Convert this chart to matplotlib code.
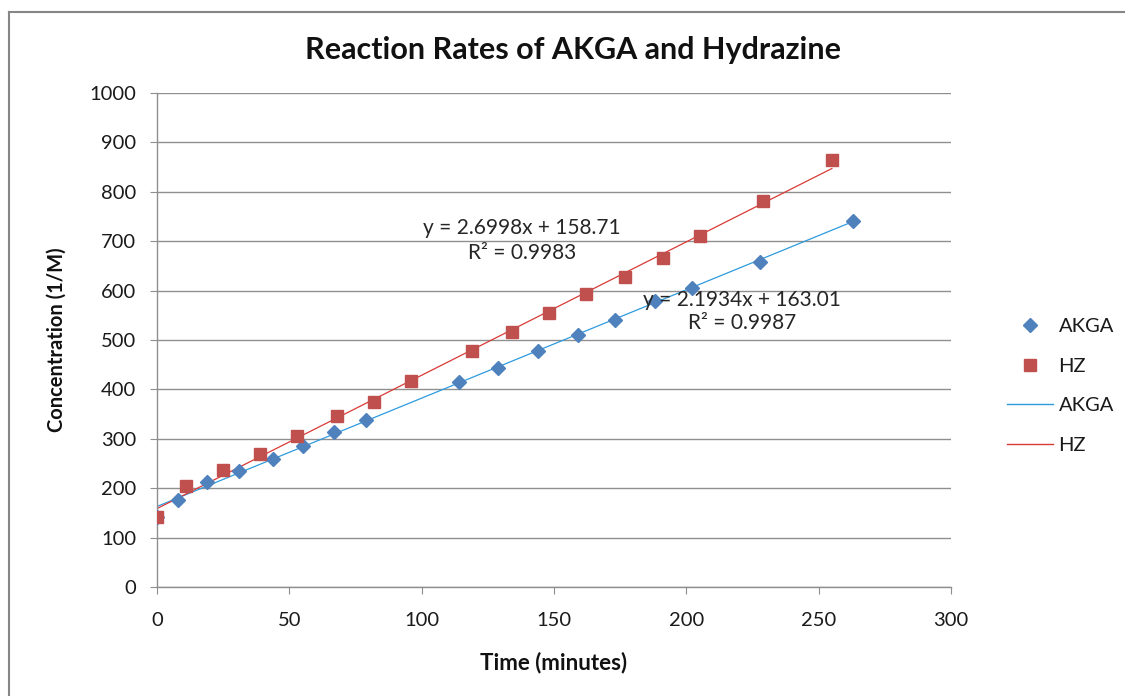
import matplotlib
matplotlib.use("Agg")
import matplotlib.pyplot as plt
from matplotlib.lines import Line2D
import numpy as np

# AKGA data (time in minutes, concentration in 1/M)
akga_time = [0, 8, 19, 31, 44, 55, 67, 79, 114, 129, 144, 159, 173, 188, 202, 228, 263]
akga_conc = [141, 176, 213, 235, 260, 286, 313, 339, 414, 443, 478, 511, 540, 578, 605, 658, 741]

# Hydrazine data
hz_time = [0, 11, 25, 39, 53, 68, 82, 96, 119, 134, 148, 162, 177, 191, 205, 229, 255]
hz_conc = [141, 204, 237, 269, 306, 347, 375, 416, 478, 517, 554, 593, 628, 667, 711, 781, 864]

# linear trendlines as reported on the chart
akga_fit = (2.1934, 163.01, 0.9987)
hz_fit = (2.6998, 158.71, 0.9983)

x_ticks = [0, 50, 100, 150, 200, 250, 300]
y_ticks = [0, 100, 200, 300, 400, 500, 600, 700, 800, 900, 1000]

plt.rcParams['font.family'] = ['Lato', 'DejaVu Sans']

fig = plt.figure(figsize=(11.25, 6.96), dpi=100)
ax = fig.add_axes([157 / 1125, 1 - 587 / 696, (951 - 157) / 1125, (587 - 93) / 696])

grid_col = '#8f8f8f'
blue = '#4F81BD'
red = '#C0504D'
txt_col = '#1a1a1a'

# trendlines
for t, (m, b, r2), col in [(akga_time, akga_fit, '#2E9BDE'), (hz_time, hz_fit, '#D83A36')]:
    xs = np.array([0, max(t)])
    ax.plot(xs, m * xs + b, color=col, lw=0.9, zorder=2)

ax.plot(akga_time, akga_conc, 'D', color=blue, ms=7.5, zorder=3)
ax.plot(hz_time, hz_conc, 's', color=red, ms=8.5, zorder=4)

ax.set_xlim(0, 300)
ax.set_ylim(0, 1000)
ax.set_xticks(x_ticks)
ax.set_yticks(y_ticks)
ax.yaxis.grid(True, color=grid_col, lw=1.0)
ax.set_axisbelow(True)
for s in ['top', 'right']:
    ax.spines[s].set_visible(False)
for s in ['left', 'bottom']:
    ax.spines[s].set_color(grid_col)
    ax.spines[s].set_linewidth(1.0)
ax.tick_params(axis='x', length=5, color=grid_col, pad=13, labelsize=14.5, labelcolor=txt_col)
ax.tick_params(axis='y', length=5, color=grid_col, pad=10, labelsize=14.5, labelcolor=txt_col)

# title is centred on the whole chart area, not on the plot area
fig.text(573 / 1125, 1 - 50 / 696, 'Reaction Rates of AKGA and Hydrazine', fontsize=22,
         fontweight='bold', color='#111111', ha='center', va='center')
ax.set_xlabel('Time (minutes)', fontsize=16, fontweight='bold', labelpad=16, color='#111111')
ax.set_ylabel('Concentration (1/M)', fontsize=14.5, fontweight='bold', labelpad=16, color='#111111')

# trendline equations
ax.text(138, 727, f'y = {hz_fit[0]}x + {hz_fit[1]}', ha='center', va='center', fontsize=15, color='#262626')
ax.text(138, 676, f'R² = {hz_fit[2]}', ha='center', va='center', fontsize=15, color='#262626')
ax.text(221, 580, f'y = {akga_fit[0]}x + {akga_fit[1]}', ha='center', va='center', fontsize=15, color='#262626')
ax.text(221, 534, f'R² = {akga_fit[2]}', ha='center', va='center', fontsize=15, color='#262626')

handles = [
    Line2D([], [], ls='none', marker='D', color=blue, ms=7.5),
    Line2D([], [], ls='none', marker='s', color=red, ms=8.5),
    Line2D([], [], color='#2E9BDE', lw=1.0),
    Line2D([], [], color='#D83A36', lw=1.0),
]
fig.legend(handles, ['AKGA', 'HZ', 'AKGA', 'HZ'], loc='center left',
           bbox_to_anchor=(989 / 1125, 1 - 386 / 696), frameon=False, fontsize=14.5,
           handlelength=2.3, handletextpad=0.25, labelspacing=1.12, labelcolor=txt_col)

# outer chart border (right and bottom edges fall outside the image)
border_kw = dict(color='#868686', lw=1.5, transform=fig.transFigure)
fig.add_artist(Line2D([9 / 1125, 9 / 1125], [0, 1 - 12 / 696], **border_kw))
fig.add_artist(Line2D([9 / 1125, 1], [1 - 12 / 696, 1 - 12 / 696], **border_kw))

fig.savefig('out.png', dpi=100)
